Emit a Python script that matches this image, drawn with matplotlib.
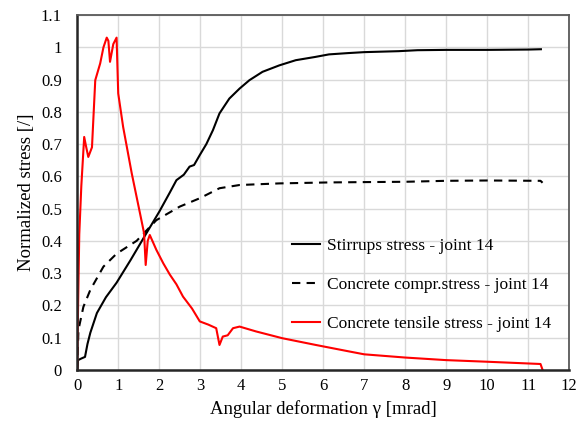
import matplotlib.pyplot as plt

plt.rcParams["font.family"] = ["Liberation Serif", "DejaVu Serif"]

# Stirrups stress
x_stir = [0.0, 0.02, 0.1, 0.19, 0.25, 0.32, 0.48, 0.7, 0.96, 1.3, 1.69, 2.0, 2.26, 2.42, 2.6, 2.74,
          2.85, 2.99, 3.15, 3.31, 3.47, 3.6, 3.71, 3.96, 4.2, 4.52, 4.93, 5.33, 5.8, 6.14, 6.6,
          7.0, 7.84, 8.3, 9.0, 10.0, 11.0, 11.31]
y_stir = [0.0, 0.03, 0.035, 0.04, 0.08, 0.115, 0.176, 0.225, 0.27, 0.34, 0.424, 0.49, 0.55, 0.588, 0.605, 0.63,
          0.635, 0.666, 0.70, 0.743, 0.795, 0.82, 0.841, 0.872, 0.898, 0.924, 0.944, 0.96, 0.97, 0.978, 0.982,
          0.985, 0.988, 0.991, 0.992, 0.992, 0.993, 0.994]

# Concrete compression stress
x_comp = [0.0, 0.03, 0.15, 0.32, 0.64, 0.96, 1.45, 1.93, 2.5, 2.99, 3.47, 3.96, 4.93, 6.14, 7.0, 8.0,
          9.0, 10.0, 11.3, 11.35]
y_comp = [0.0, 0.124, 0.195, 0.248, 0.32, 0.36, 0.40, 0.464, 0.506, 0.532, 0.563, 0.573, 0.578, 0.581, 0.582, 0.583,
          0.586, 0.587, 0.586, 0.58]

# Concrete tensile stress
x_tens = [0.0, 0.02, 0.05, 0.1, 0.17, 0.22, 0.27, 0.36, 0.44, 0.56, 0.64, 0.72, 0.76, 0.8, 0.88,
          0.96, 1.0, 1.12, 1.33, 1.53, 1.63, 1.67, 1.72, 1.77, 1.93, 2.1, 2.26, 2.42, 2.58, 2.8, 2.99, 3.2, 3.39,
          3.47, 3.55, 3.67, 3.8, 3.96, 4.36, 5.0, 5.82, 6.63, 7.0, 8.0, 9.0, 10.0, 11.3, 11.35]
y_tens = [0.0, 0.19, 0.42, 0.57, 0.722, 0.69, 0.66, 0.69, 0.898, 0.95, 1.0, 1.03, 1.02, 0.955, 1.01,
          1.03, 0.857, 0.753, 0.609, 0.486, 0.424, 0.325, 0.40, 0.418, 0.372, 0.33, 0.295, 0.265, 0.227, 0.19, 0.15, 0.14, 0.129,
          0.077, 0.103, 0.107, 0.129, 0.134, 0.119, 0.098, 0.077, 0.057, 0.048, 0.038, 0.03, 0.025, 0.018, 0.0]

fig, ax = plt.subplots(figsize=(5.85, 4.3), dpi=100)
fig.subplots_adjust(left=0.132, right=0.973, bottom=0.14, top=0.965)

ax.plot(x_stir, y_stir, color="black", lw=1.5, label="Stirrups stress - joint 14")
ax.plot(x_comp, y_comp, color="black", lw=1.5, ls=(0, (4, 3)), label="Concrete compr.stress - joint 14")
ax.plot(x_tens, y_tens, color="red", lw=1.5, label="Concrete tensile stress - joint 14")

ax.set_xlim(0, 12)
ax.set_ylim(0, 1.1)
ax.set_xticks(range(0, 13))
ax.set_yticks([i / 10 for i in range(12)])
ax.set_yticklabels(["0", "0.1", "0.2", "0.3", "0.4", "0.5", "0.6", "0.7", "0.8", "0.9", "1", "1.1"])
ax.tick_params(labelsize=12, length=0)
ax.tick_params(axis="x", pad=6)
ax.tick_params(axis="y", pad=11)
ax.grid(True, color="#d9d9d9", lw=1)
ax.set_axisbelow(True)
for s in ax.spines.values():
    s.set_color("#595959")
    s.set_linewidth(1.3)
ax.spines["left"].set_color("#262626")
ax.spines["bottom"].set_color("#262626")
ax.spines["left"].set_linewidth(1.8)
ax.spines["bottom"].set_linewidth(1.8)

ax.set_xlabel("Angular deformation γ [mrad]", fontsize=13.5)
ax.set_ylabel("Normalized stress [/]", fontsize=13.5)

ax.legend(loc="upper left", bbox_to_anchor=(0.405, 0.415), frameon=False, fontsize=12.5,
          handlelength=1.6, handletextpad=0.4, labelspacing=1.3)

fig.savefig("out.png", dpi=100)
